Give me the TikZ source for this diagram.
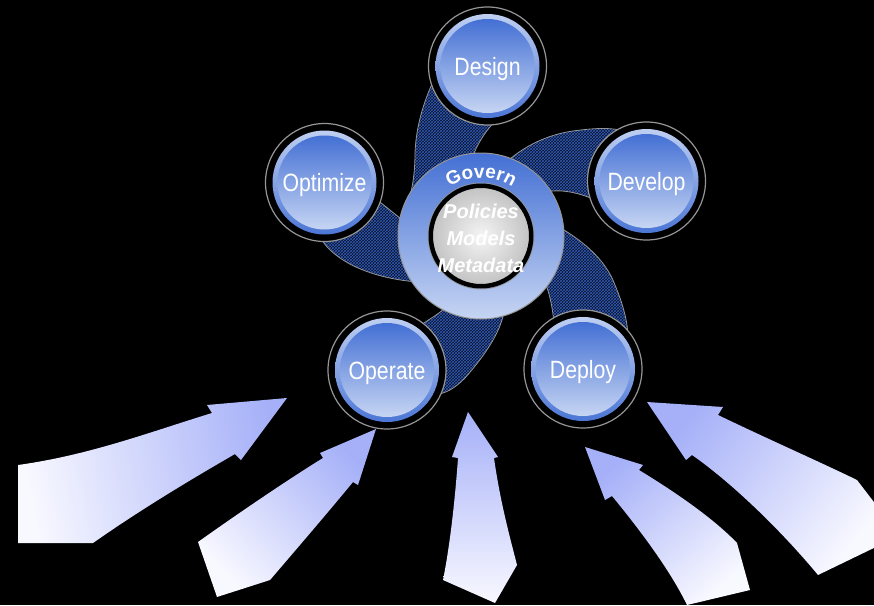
\documentclass[tikz,border=0pt]{standalone}
\usepackage{fontspec}
\setmainfont{Liberation Sans}
\newfontfamily\narrowfont[FakeStretch=0.85]{Liberation Sans}
\usetikzlibrary{patterns,decorations.text}
\definecolor{bluedark}{RGB}{68,112,212}
\definecolor{bluelight}{RGB}{198,213,243}
\definecolor{rimgrey}{RGB}{150,150,150}
\definecolor{armfill}{RGB}{8,14,36}
\definecolor{armhatch}{RGB}{50,92,185}
\definecolor{arrowhead}{RGB}{165,176,248}
\definecolor{arrowtail}{RGB}{248,248,255}
\tikzset{
  stepnode/.style={circle, inner sep=0pt, minimum size=118pt, fill=black, draw=rimgrey, line width=1.2pt,
    text=white, font=\narrowfont\fontsize{25}{30}\selectfont, text height=18pt, text depth=0pt,
    path picture={
      \shade[top color=bluelight, bottom color=bluedark] (path picture bounding box.center) circle[radius=52pt];
      \shade[top color=bluedark, bottom color=bluelight] (path picture bounding box.center) circle[radius=47pt];
    }},
  arm/.style={draw=rimgrey, line width=0.8pt, preaction={fill=armfill}, pattern=crosshatch, pattern color=armhatch},
  bigarrow/.style={top color=arrowhead, bottom color=arrowtail, draw=none},
}
\begin{document}
\begin{tikzpicture}[x=1pt,y=-1pt]
\useasboundingbox (0,0) rectangle (874,605);
\fill[black] (0,0) rectangle (874,605);

% big arrows
\path[bigarrow, shading angle=-80] (18,465) -- (18,543) -- (93,543) .. controls (140,510) and (190,480) .. (235,454) -- (241,460) -- (287,398) -- (207,405) -- (212,413) .. controls (150,432) and (90,455) .. (18,465) -- cycle;
\path[bigarrow, shading angle=-46] (198,542) -- (217,597) -- (270,580) .. controls (300,545) and (330,510) .. (353,482) -- (358,485) -- (376,429) -- (320,453) -- (323,458) .. controls (300,472) and (250,505) .. (198,542) -- cycle;
\path[bigarrow, shading angle=0] (468,412) -- (498,457) -- (494,458) .. controls (500,500) and (508,530) .. (517,565) -- (495,603) -- (443,580) .. controls (450,545) and (455,500) .. (458,458) -- (452,457) -- cycle;
\path[bigarrow, shading angle=41] (585,447) -- (643,465) -- (639,470) .. controls (680,495) and (715,520) .. (737,543) -- (750,590) -- (687,605) .. controls (670,570) and (640,530) .. (612,496) -- (605,500) -- cycle;
\path[bigarrow, shading angle=52] (647,402) -- (723,407) -- (718,415) .. controls (770,440) and (820,462) .. (857,480) -- (880,510) -- (880,545) -- (818,575) .. controls (785,535) and (735,485) .. (692,455) -- (686,460) -- cycle;

% swirl arms
\path[arm] (440,68) .. controls (425,95) and (416,125) .. (415,153) .. controls (415,175) and (412,192) .. (405,215) -- (440,215) -- (470,165) .. controls (474,150) and (482,135) .. (496,120) -- (475,95) -- cycle;
\path[arm] (500,168) .. controls (520,148) and (545,135) .. (573,131) .. controls (595,128) and (612,127) .. (628,132) -- (600,202) .. controls (585,195) and (565,188) .. (545,192) -- cycle;
\path[arm] (550,222) .. controls (580,238) and (605,258) .. (615,285) .. controls (622,302) and (627,318) .. (628,335) -- (555,330) .. controls (553,315) and (552,300) .. (545,282) -- cycle;
\path[arm] (412,332) .. controls (428,318) and (440,316) .. (452,300) -- (505,305) .. controls (503,330) and (485,355) .. (465,378) .. controls (455,388) and (445,395) .. (430,395) -- cycle;
\path[arm] (370,195) .. controls (382,203) and (392,212) .. (405,222) -- (418,282) .. controls (390,280) and (360,272) .. (340,258) .. controls (330,251) and (322,243) .. (318,232) -- cycle;

% centre
\node[circle, inner sep=0pt, minimum size=166pt, draw=rimgrey, line width=1pt, top color=bluedark, bottom color=bluelight] (govern) at (481,236) {};
\node[circle, inner sep=0pt, minimum size=106pt, draw=rimgrey, line width=0.8pt] (corerim) at (481,236) {};
\node[circle, inner sep=0pt, minimum size=100.5pt, draw=black, line width=4.5pt, inner color=white!92!gray, outer color=gray!48] (core) at (481,236) {};
\node[text=white, align=center, font=\bfseries\itshape\fontsize{20}{27}\selectfont] (coretext) at (481,238) {Policies\\Models\\Metadata};
\path[decorate, decoration={text along path, text={|\bfseries\fontsize{19}{21}\selectfont\color{white}|Govern}, text align=center}] (govern.center) ++(-150:58) arc[start angle=-150, end angle=-30, radius=58];

% step circles
\node[stepnode] (design) at (487.5,66) {Design};
\node[stepnode] (develop) at (646.5,181) {Develop};
\node[stepnode] (optimize) at (324.5,182.5) {Optimize};
\node[stepnode] (operate) at (387,370) {Operate};
\node[stepnode] (deploy) at (583,369) {Deploy};
\end{tikzpicture}
\end{document}
